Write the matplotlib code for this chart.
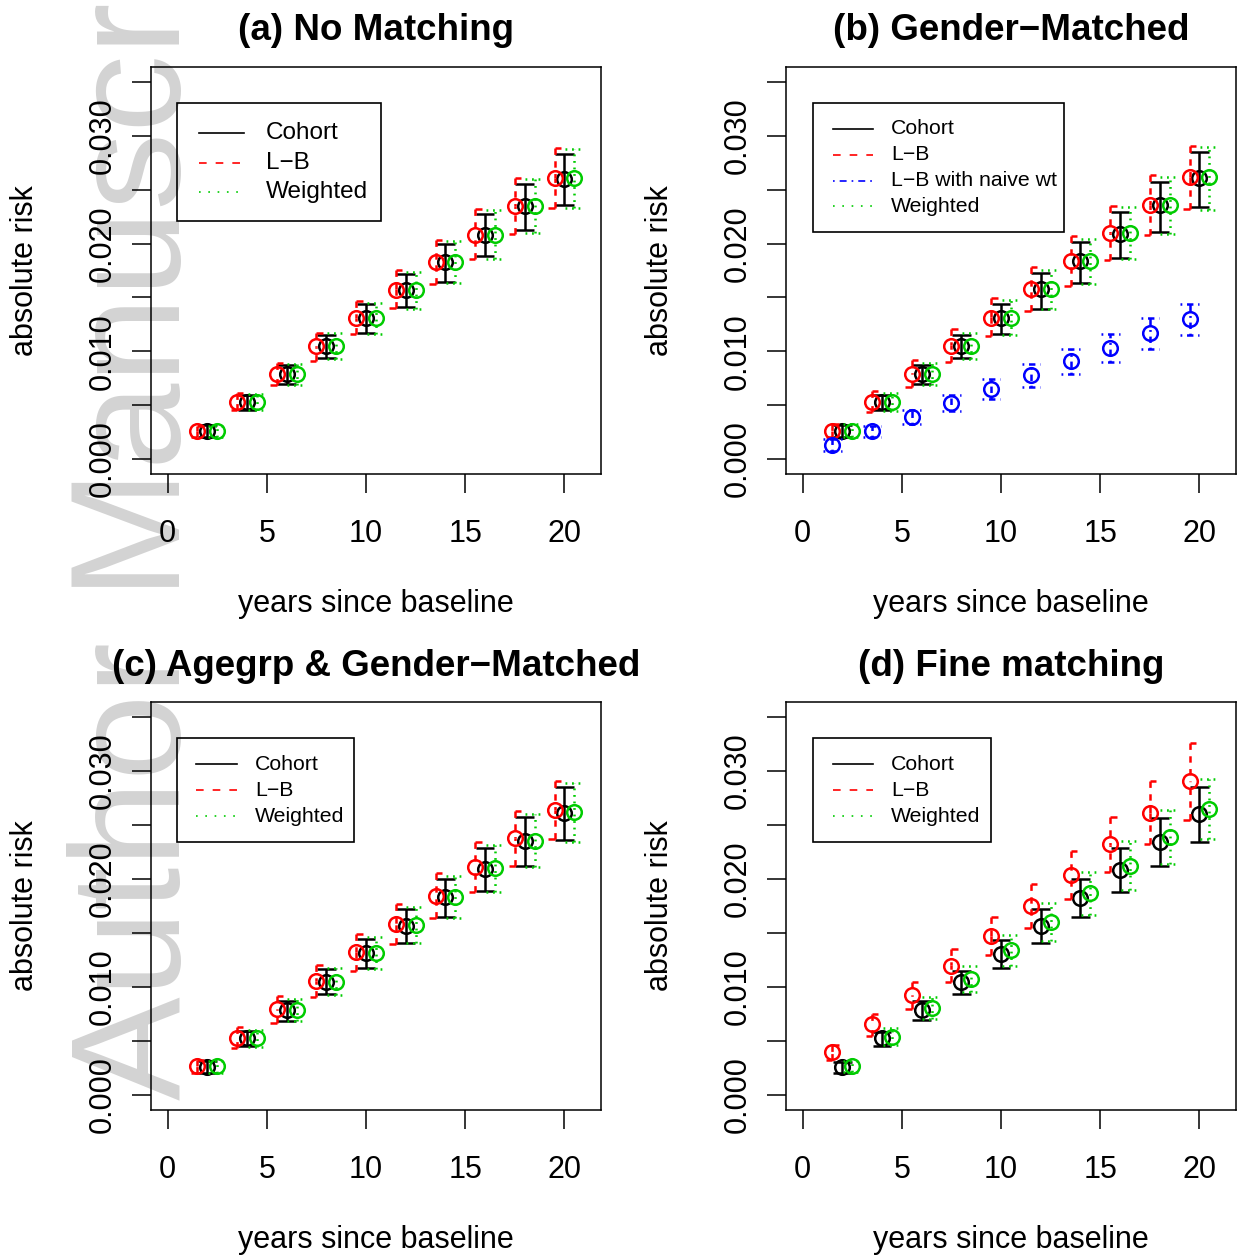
import numpy as np
import matplotlib
matplotlib.use("Agg")
import matplotlib.pyplot as plt
from matplotlib.patches import Rectangle
from matplotlib.lines import Line2D

plt.rcParams['font.family'] = ['Liberation Sans', 'DejaVu Sans']
plt.rcParams['lines.scale_dashes'] = False

# ---- data ----
years = np.arange(2, 21, 2)

# (a) No Matching
a_coh = [0.00262, 0.00525, 0.00787, 0.01049, 0.01306, 0.01565, 0.01827, 0.02083, 0.02346, 0.02602]
a_coh_lo = [0.00201, 0.00457, 0.00694, 0.00935, 0.01167, 0.0141, 0.01645, 0.01883, 0.02123, 0.0236]
a_coh_hi = [0.00315, 0.00593, 0.0087, 0.01148, 0.01435, 0.01713, 0.0200, 0.02278, 0.02556, 0.0283]
a_lb = [0.00262, 0.00530, 0.00787, 0.01049, 0.01306, 0.01565, 0.01827, 0.02083, 0.02346, 0.02608]
a_lb_lo = [0.00207, 0.00457, 0.00688, 0.0091, 0.01157, 0.01398, 0.01627, 0.01858, 0.0209, 0.0233]
a_lb_hi = [0.00309, 0.00608, 0.00889, 0.01173, 0.01466, 0.01753, 0.02034, 0.0232, 0.0261, 0.02886]
a_wt = [0.00262, 0.00525, 0.00787, 0.01049, 0.01306, 0.01565, 0.01827, 0.02083, 0.02346, 0.0261]
a_wt_lo = [0.00207, 0.00457, 0.00688, 0.00926, 0.01164, 0.01395, 0.0163, 0.01861, 0.021, 0.0233]
a_wt_hi = [0.0031, 0.00602, 0.00886, 0.01167, 0.01451, 0.0174, 0.02022, 0.02309, 0.026, 0.02877]

# (b) Gender-Matched
b_coh = [0.00262, 0.00525, 0.00787, 0.01049, 0.01312, 0.01574, 0.01836, 0.02093, 0.02355, 0.02608]
b_coh_lo = [0.00201, 0.00454, 0.00694, 0.00935, 0.01157, 0.01395, 0.01636, 0.01867, 0.02105, 0.02336]
b_coh_hi = [0.00318, 0.00593, 0.0087, 0.01148, 0.01441, 0.01728, 0.02012, 0.02293, 0.02571, 0.02855]
b_lb = [0.00262, 0.00530, 0.00787, 0.01049, 0.01312, 0.01574, 0.01836, 0.02099, 0.02355, 0.02617]
b_lb_lo = [0.00201, 0.00432, 0.00664, 0.00901, 0.01142, 0.01373, 0.01605, 0.01843, 0.02077, 0.02321]
b_lb_hi = [0.00324, 0.00633, 0.00917, 0.0121, 0.01497, 0.01784, 0.02068, 0.02346, 0.02633, 0.02907]
b_naive = [0.0013, 0.00256, 0.00386, 0.00515, 0.00648, 0.00778, 0.0091, 0.01034, 0.01167, 0.01296]
b_naive_lo = [0.00077, 0.00201, 0.00324, 0.00448, 0.00556, 0.0067, 0.00793, 0.00904, 0.01025, 0.01148]
b_naive_hi = [0.00185, 0.0031, 0.00454, 0.00593, 0.0074, 0.0088, 0.01019, 0.01164, 0.01306, 0.01441]
b_wt = [0.00262, 0.00530, 0.00787, 0.01049, 0.01312, 0.01574, 0.01836, 0.02099, 0.02355, 0.02617]
b_wt_lo = [0.00201, 0.00448, 0.00685, 0.00926, 0.01151, 0.01389, 0.0162, 0.01858, 0.0209, 0.02315]
b_wt_hi = [0.00324, 0.00608, 0.00889, 0.01173, 0.01472, 0.01759, 0.02046, 0.02336, 0.02623, 0.02901]

# (c) Agegrp & Gender-Matched
c_coh = [0.00261, 0.00524, 0.00787, 0.01043, 0.01312, 0.01568, 0.0183, 0.0209, 0.02352, 0.02614]
c_coh_lo = [0.002, 0.00453, 0.00687, 0.00932, 0.01173, 0.0141, 0.01645, 0.01889, 0.02124, 0.02362]
c_coh_hi = [0.00314, 0.00592, 0.00873, 0.01164, 0.01441, 0.01722, 0.02, 0.02285, 0.02572, 0.0285]
c_lb = [0.0027, 0.0053, 0.00793, 0.01055, 0.01321, 0.01583, 0.01846, 0.02114, 0.02377, 0.0264]
c_lb_lo = [0.00206, 0.00432, 0.00669, 0.0091, 0.01151, 0.01395, 0.01636, 0.01883, 0.02124, 0.02368]
c_lb_hi = [0.00323, 0.00632, 0.00919, 0.01203, 0.01488, 0.01769, 0.02053, 0.0234, 0.0263, 0.02911]
c_wt = [0.00266, 0.00524, 0.00787, 0.01049, 0.01312, 0.01574, 0.01836, 0.02099, 0.02355, 0.02617]
c_wt_lo = [0.00206, 0.00447, 0.00687, 0.00926, 0.01164, 0.01404, 0.01642, 0.01877, 0.02114, 0.02346]
c_wt_hi = [0.00317, 0.00601, 0.00888, 0.01173, 0.0146, 0.01744, 0.02031, 0.02315, 0.02602, 0.02887]

# (d) Fine matching
d_coh = [0.00261, 0.00524, 0.00787, 0.01043, 0.01303, 0.01565, 0.01827, 0.02084, 0.0234, 0.026]
d_coh_lo = [0.00206, 0.00456, 0.00694, 0.00935, 0.01173, 0.0141, 0.01645, 0.01883, 0.02124, 0.02346]
d_coh_hi = [0.00308, 0.00586, 0.0087, 0.01151, 0.01435, 0.0172, 0.02, 0.02285, 0.02563, 0.0285]
d_lb = [0.00394, 0.00654, 0.00926, 0.01197, 0.01475, 0.01753, 0.02037, 0.02324, 0.02614, 0.02908]
d_lb_lo = [0.00323, 0.00546, 0.00796, 0.01049, 0.01296, 0.01549, 0.01815, 0.02062, 0.02324, 0.02547]
d_lb_hi = [0.00462, 0.0075, 0.01049, 0.01349, 0.01645, 0.01954, 0.0226, 0.02572, 0.02908, 0.03263]
d_wt = [0.0027, 0.00539, 0.00808, 0.01071, 0.01342, 0.01605, 0.01868, 0.02124, 0.02387, 0.02649]
d_wt_lo = [0.00215, 0.00462, 0.00703, 0.00956, 0.01194, 0.01429, 0.01667, 0.01898, 0.02139, 0.02368]
d_wt_hi = [0.00317, 0.00617, 0.00904, 0.01197, 0.01481, 0.01775, 0.02062, 0.02352, 0.0264, 0.02924]

titles = ["(a) No Matching", "(b) Gender\u2212Matched",
          "(c) Agegrp & Gender\u2212Matched", "(d) Fine matching"]
x_ticks = [0, 5, 10, 15, 20]
y_ticks = [0.0, 0.01, 0.02, 0.03]
y_ticklabels = ["0.000", "0.010", "0.020", "0.030"]
y_ticks_unlabelled = [0.005, 0.015, 0.025, 0.035]

# ---- styles ----
LW = 1.8
DASH = (0, (4.6, 4.6))
DOT = (0, (1.3, 3.4))
DASHDOT = (0, (1.3, 3.4, 4.6, 3.4))
GREEN = '#00cc00'

W, H = 1237, 1255
fig = plt.figure(figsize=(W / 100, H / 100), dpi=100)
fig.patch.set_facecolor('white')

# faint "Author Manuscript" stamp down the left edge
fig.text(180 / W, 1 - 1100 / H, "Author Manuscript", rotation=90, rotation_mode='anchor',
         ha='left', va='baseline', fontsize=112, color='#d3d3d3', zorder=-1)


def add_panel(left, top, right, bottom):
    ax = fig.add_axes([left / W, 1 - bottom / H, (right - left) / W, (bottom - top) / H])
    ax.set_facecolor('none')
    return ax


def draw_ci(ax, x, est, lo, hi, color, ls, cap='full', w=0.47):
    x = np.asarray(x, float)
    lo = np.asarray(lo)
    hi = np.asarray(hi)
    if cap == 'corner':
        mid = (lo + hi) / 2
        ax.vlines(x, hi, mid, colors=color, linestyles=ls, lw=LW)
        ax.vlines(x, lo, mid, colors=color, linestyles=ls, lw=LW)
        ax.hlines(hi, x, x + 0.32, colors=color, lw=LW)
        ax.hlines(lo, x - 0.32, x, colors=color, lw=LW)
    else:
        ax.vlines(x, lo, hi, colors=color, linestyles=ls, lw=LW)
        ax.hlines(hi, x - w, x + w, colors=color, linestyles=ls, lw=LW)
        ax.hlines(lo, x - w, x + w, colors=color, linestyles=ls, lw=LW)
    ax.plot(x, est, ls='none', marker='o', ms=10.5, mfc='none', mec=color, mew=1.8)


def draw_legend(ax, box, line_x, text_x, rows, entries, fs):
    # box/line/text positions are pixel offsets from the panel's top-left corner
    pos = ax.get_position()
    aw, ah = pos.width * W, pos.height * H
    fx = lambda p: p / aw
    fy = lambda p: 1 - p / ah
    ax.add_patch(Rectangle((fx(box[0]), fy(box[3])), fx(box[2]) - fx(box[0]),
                           fy(box[1]) - fy(box[3]), transform=ax.transAxes,
                           fill=False, ec='black', lw=1.2, clip_on=False, zorder=5))
    for r, (label, color, ls) in zip(rows, entries):
        ax.add_line(Line2D([fx(line_x[0]), fx(line_x[1])], [fy(r), fy(r)],
                           transform=ax.transAxes, color=color, ls=ls, lw=1.2))
        ax.text(fx(text_x), fy(r), label, transform=ax.transAxes, fontsize=fs,
                ha='left', va='center')


def style_panel(ax, title):
    ax.set_xlim(-0.84, 21.84)
    ax.set_ylim(-0.0014, 0.0364)
    ax.set_xticks(x_ticks)
    ax.set_xticklabels([str(t) for t in x_ticks])
    ax.set_yticks(y_ticks)
    ax.set_yticks(y_ticks_unlabelled, minor=True)
    ax.set_yticklabels(y_ticklabels, rotation=90, va='center')
    ax.tick_params(axis='both', which='both', length=13.7, width=1.1, labelsize=22)
    ax.tick_params(axis='x', pad=19)
    ax.tick_params(axis='y', pad=10)
    for s in ax.spines.values():
        s.set_linewidth(1.1)
    ah = ax.get_position().height * H
    aw = ax.get_position().width * W
    ax.text(0.5, 1 + 36 / ah, title, transform=ax.transAxes, ha='center', va='center',
            fontsize=26.5, fontweight='bold')
    ax.text(0.5, -130 / ah, "years since baseline", transform=ax.transAxes,
            ha='center', va='center', fontsize=22)
    ax.text(-126 / aw, 0.5, "absolute risk", transform=ax.transAxes, rotation=90,
            ha='center', va='center', fontsize=22)


lab_coh = ("Cohort", 'black', '-')
lab_lb = ("L\u2212B", 'red', (0, (5.5, 6.5)))
lab_naive = ("L\u2212B with naive wt", 'blue', (0, (1.2, 3.6, 5, 3.6)))
lab_wt = ("Weighted", GREEN, (0, (1.2, 5.5)))

# (a)
ax = add_panel(151, 67, 601, 474)
draw_ci(ax, years, a_coh, a_coh_lo, a_coh_hi, 'black', '-')
draw_ci(ax, years - 0.5, a_lb, a_lb_lo, a_lb_hi, 'red', DASH, cap='corner')
draw_ci(ax, years + 0.5, a_wt, a_wt_lo, a_wt_hi, GREEN, DOT)
style_panel(ax, titles[0])
draw_legend(ax, (26, 36, 230, 154), (48, 93), 115, (66, 96, 125),
            [lab_coh, lab_lb, lab_wt], 17.5)

# (b)
ax = add_panel(786, 67, 1236, 474)
draw_ci(ax, years, b_coh, b_coh_lo, b_coh_hi, 'black', '-')
draw_ci(ax, years - 0.5, b_lb, b_lb_lo, b_lb_hi, 'red', DASH, cap='corner')
draw_ci(ax, years - 0.5, b_naive, b_naive_lo, b_naive_hi, 'blue', DASHDOT)
draw_ci(ax, years + 0.5, b_wt, b_wt_lo, b_wt_hi, GREEN, DOT)
style_panel(ax, titles[1])
draw_legend(ax, (27, 36, 278, 165), (47, 87), 105, (62, 88, 114, 139),
            [lab_coh, lab_lb, lab_naive, lab_wt], 15.3)

# (c)
ax = add_panel(151, 702, 601, 1110)
draw_ci(ax, years, c_coh, c_coh_lo, c_coh_hi, 'black', '-')
draw_ci(ax, years - 0.5, c_lb, c_lb_lo, c_lb_hi, 'red', DASH, cap='corner')
draw_ci(ax, years + 0.5, c_wt, c_wt_lo, c_wt_hi, GREEN, DOT)
style_panel(ax, titles[2])
draw_legend(ax, (26, 36, 203, 140), (45, 86), 104, (62, 88, 114),
            [lab_coh, lab_lb, lab_wt], 15.3)

# (d)
ax = add_panel(786, 702, 1236, 1110)
draw_ci(ax, years, d_coh, d_coh_lo, d_coh_hi, 'black', '-')
draw_ci(ax, years - 0.5, d_lb, d_lb_lo, d_lb_hi, 'red', DASH, cap='corner')
draw_ci(ax, years + 0.5, d_wt, d_wt_lo, d_wt_hi, GREEN, DOT)
style_panel(ax, titles[3])
draw_legend(ax, (27, 36, 205, 140), (47, 87), 105, (62, 88, 114),
            [lab_coh, lab_lb, lab_wt], 15.3)

fig.savefig("out.png", dpi=100)
